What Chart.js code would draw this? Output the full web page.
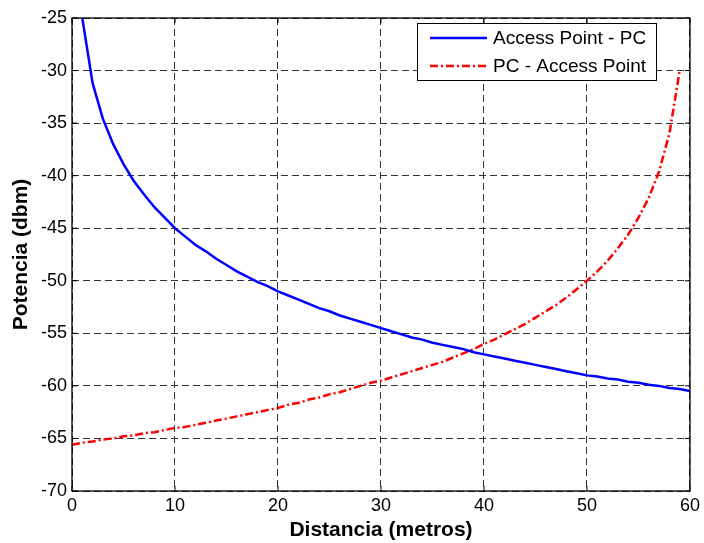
<!DOCTYPE html>
<html>
<head>
  <meta charset="utf-8">
  <title></title>
  <style>
    body { margin: 0; background: #fff; }
  </style>
</head>
<body>
<canvas id="powerChart" width="704" height="543"></canvas>
</body>
<script src="https://cdn.jsdelivr.net/npm/chart.js"></script>

<script type="text/javascript">
    // data
    const distApPc = [1, 2, 3, 4, 5, 6, 7, 8, 9, 10,
      11, 12, 13, 14, 15, 16, 17, 18, 19, 20,
      21, 22, 23, 24, 25, 26, 27, 28, 29, 30,
      31, 32, 33, 34, 35, 36, 37, 38, 39, 40,
      41, 42, 43, 44, 45, 46, 47, 48, 49, 50,
      51, 52, 53, 54, 55, 56, 57, 58, 59, 60];
    const powerApPc = [-25.0, -31.2, -34.6, -37.0, -38.9, -40.5, -41.8, -43.0, -44.0, -45.0,
      -45.8, -46.6, -47.2, -47.9, -48.5, -49.1, -49.6, -50.1, -50.5, -51.0,
      -51.4, -51.8, -52.2, -52.6, -52.9, -53.3, -53.6, -53.9, -54.2, -54.5,
      -54.8, -55.1, -55.4, -55.6, -55.9, -56.1, -56.3, -56.5, -56.8, -57.0,
      -57.2, -57.4, -57.6, -57.8, -58.0, -58.2, -58.4, -58.6, -58.8, -59.0,
      -59.1, -59.3, -59.4, -59.6, -59.7, -59.9, -60.0, -60.2, -60.3, -60.5];

    const distPcAp = [0, 1, 2, 3, 4, 5, 6, 7, 8, 9,
      10, 11, 12, 13, 14, 15, 16, 17, 18, 19,
      20, 21, 22, 23, 24, 25, 26, 27, 28, 29,
      30, 31, 32, 33, 34, 35, 36, 37, 38, 39,
      40, 41, 42, 43, 44, 45, 46, 47, 48, 49,
      50, 51, 52, 53, 54, 55, 56, 57, 58, 59];
    const powerPcAp = [-65.6, -65.4, -65.3, -65.1, -65.0, -64.8, -64.7, -64.5, -64.4, -64.2,
      -64.0, -63.9, -63.7, -63.5, -63.3, -63.1, -62.9, -62.7, -62.5, -62.3,
      -62.1, -61.8, -61.6, -61.3, -61.1, -60.8, -60.6, -60.3, -60.0, -59.7,
      -59.5, -59.2, -58.9, -58.6, -58.3, -58.0, -57.7, -57.3, -56.9, -56.5,
      -56.0, -55.6, -55.1, -54.6, -54.1, -53.5, -52.9, -52.3, -51.6, -50.8,
      -50.0, -49.1, -48.1, -46.9, -45.6, -44.0, -42.1, -39.6, -36.0, -30.0];

    const seriesNames = ['Access Point - PC', 'PC - Access Point'];
    const xTitle = 'Distancia (metros)';
    const yTitle = 'Potencia (dbm)';

    const blue = '#0000ff';
    const red = '#ff0000';
    const dashDot = [8, 3, 2, 3];
    const tickFont = { family: 'Arial, "Liberation Sans"', size: 18 };
    const titleFont = { family: 'Arial, "Liberation Sans"', size: 21, weight: 'bold' };

    // box round the plot + inward ticks, MATLAB style
    const frame = {
      id: 'frame',
      afterDraw(chart) {
        const ctx = chart.ctx;
        const a = chart.chartArea;
        const xs = chart.scales.x, ys = chart.scales.y;
        ctx.save();
        ctx.strokeStyle = '#000';
        ctx.lineWidth = 1.3;
        ctx.setLineDash([]);
        ctx.strokeRect(a.left, a.top, a.right - a.left, a.bottom - a.top);
        ctx.lineWidth = 1;
        ctx.beginPath();
        xs.ticks.forEach(t => {
          const px = xs.getPixelForValue(t.value);
          ctx.moveTo(px, a.bottom); ctx.lineTo(px, a.bottom - 5);
          ctx.moveTo(px, a.top); ctx.lineTo(px, a.top + 5);
        });
        ys.ticks.forEach(t => {
          const py = ys.getPixelForValue(t.value);
          ctx.moveTo(a.left, py); ctx.lineTo(a.left + 5, py);
          ctx.moveTo(a.right, py); ctx.lineTo(a.right - 5, py);
        });
        ctx.stroke();
        ctx.restore();
      }
    };

    // legend box inside the plot, top right
    const boxLegend = {
      id: 'boxLegend',
      afterDraw(chart) {
        const ctx = chart.ctx;
        const x0 = 417, y0 = 23, w = 239, h = 57;
        ctx.save();
        ctx.fillStyle = '#fff';
        ctx.fillRect(x0, y0, w, h);
        ctx.strokeStyle = '#000';
        ctx.lineWidth = 1;
        ctx.strokeRect(x0 + 0.5, y0 + 0.5, w, h);
        const rows = [
          { y: 38, color: blue, dash: [] },
          { y: 66, color: red, dash: dashDot }
        ];
        ctx.font = '19px Arial, "Liberation Sans"';
        ctx.textBaseline = 'middle';
        rows.forEach((r, i) => {
          ctx.strokeStyle = r.color;
          ctx.lineWidth = 2.5;
          ctx.setLineDash(r.dash);
          ctx.beginPath();
          ctx.moveTo(430, r.y); ctx.lineTo(487, r.y);
          ctx.stroke();
          ctx.setLineDash([]);
          ctx.fillStyle = '#000';
          ctx.fillText(seriesNames[i], 493, r.y + 1);
        });
        ctx.restore();
      }
    };

    const data = {
      datasets: [{
        label: seriesNames[0],
        data: distApPc.map((d, i) => ({ x: d, y: powerApPc[i] })),
        borderColor: blue,
        borderWidth: 2.5,
        pointRadius: 0,
        tension: 0,
        fill: false
      }, {
        label: seriesNames[1],
        data: distPcAp.map((d, i) => ({ x: d, y: powerPcAp[i] })),
        borderColor: red,
        borderWidth: 2.5,
        borderDash: dashDot,
        pointRadius: 0,
        tension: 0,
        fill: false
      }]
    };

    const config = {
      type: 'line',
      data: data,
      options: {
        responsive: false,
        animation: false,
        layout: { padding: { top: 18, right: 12, left: 0, bottom: 0 } },
        plugins: {
          legend: { display: false },
          tooltip: { enabled: false }
        },
        scales: {
          x: {
            type: 'linear',
            min: 0,
            max: 60,
            afterFit: s => { s.height = 52; },
            ticks: { stepSize: 10, color: '#000', font: tickFont, padding: 4, maxRotation: 0 },
            grid: { color: '#333', lineWidth: 1, drawTicks: false },
            border: { display: false, dash: [7, 4] },
            title: { display: true, text: xTitle, color: '#000', font: titleFont, padding: { top: 0, bottom: 0 } }
          },
          y: {
            min: -70,
            max: -25,
            afterFit: s => { s.width = 72; },
            ticks: { stepSize: 5, color: '#000', font: tickFont, padding: 5 },
            grid: { color: '#333', lineWidth: 1, drawTicks: false },
            border: { display: false, dash: [7, 4] },
            title: { display: true, text: yTitle, color: '#000', font: titleFont, padding: { top: 9, bottom: 0 } }
          }
        }
      },
      plugins: [frame, boxLegend]
    };

    const myChart = new Chart(document.getElementById('powerChart'), config);
</script>
</html>
